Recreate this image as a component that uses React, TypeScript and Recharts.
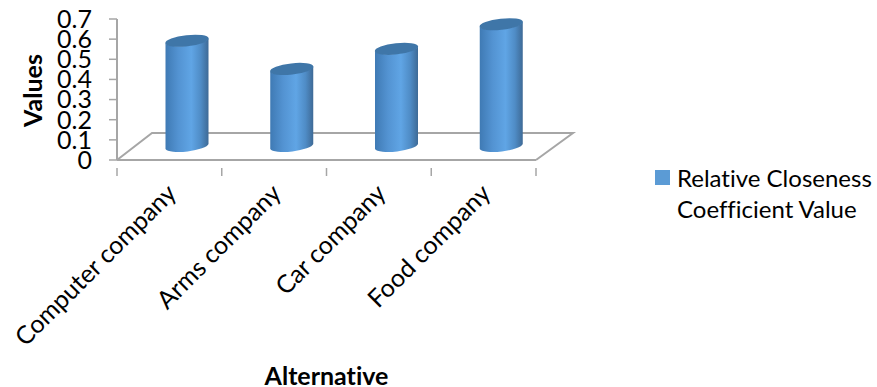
import React from 'react';
import { BarChart, Bar, XAxis, YAxis, Label, Legend, usePlotArea } from 'recharts';

const categories = ['Computer company', 'Arms company', 'Car company', 'Food company'];
const closeness = [0.525, 0.385, 0.485, 0.607];
const yTicks = [0, 0.1, 0.2, 0.3, 0.4, 0.5, 0.6, 0.7];
const seriesName = 'Relative Closeness Coefficient Value';

const data = categories.map((name, i) => ({ name, value: closeness[i] }));

const FONT = 'Lato, sans-serif';
const AXIS_GREY = '#a6a6a6';
const SLOT = 419 / categories.length;

// the chart floor, sits behind the bars
const Floor = () => {
  const plot = usePlotArea();
  if (!plot) return null;
  const { x, y, width, height } = plot;
  const base = y + height;
  return (
    <path
      d={`M${x} ${base} L${x + 35} ${base - 27} L${x + width + 37} ${base - 27} L${x + width} ${base}`}
      fill="none"
      stroke={AXIS_GREY}
      strokeWidth={2}
    />
  );
};

const Cylinder = (props: any) => {
  const { x, y, width, height } = props;
  const cx = x + width / 2 + 17.5;
  const left = cx - 21.5;
  const right = cx + 21.5;
  const top = y - 13.5;
  const bottom = y + height - 13.5;
  const arc = 'A21.8 5.6 -6.5 0';
  return (
    <g>
      <path
        d={`M${left} ${top + 2.5} L${left} ${bottom + 2.5} ${arc} 0 ${right} ${bottom - 2.5} L${right} ${top - 2.5} ${arc} 1 ${left} ${top + 2.5} Z`}
        fill="url(#cyl)"
      />
      <ellipse cx={cx} cy={top} rx={21.8} ry={5.6} transform={`rotate(-6.5 ${cx} ${top})`} fill="#3f76a8" />
    </g>
  );
};

const CategoryTick = (props: any) => {
  const { x, y, index, payload } = props;
  const tickX = x - SLOT / 2;
  const ax = x + 8.5;
  const ay = y + 27;
  return (
    <g>
      <line x1={tickX} y1={y} x2={tickX} y2={y + 8} stroke={AXIS_GREY} strokeWidth={1.5} />
      {index === categories.length - 1 && (
        <line x1={x + SLOT / 2} y1={y} x2={x + SLOT / 2} y2={y + 8} stroke={AXIS_GREY} strokeWidth={1.5} />
      )}
      <text
        x={ax}
        y={ay}
        textAnchor="end"
        fontFamily={FONT}
        fontSize={25}
        fill="#000"
        style={{ fontVariantLigatures: 'none' }}
        transform={`rotate(-45 ${ax} ${ay})`}
      >
        {payload.value}
      </text>
    </g>
  );
};

const LegendBox = () => (
  <div
    style={{
      position: 'relative',
      width: 222,
      fontFamily: FONT,
      fontSize: 24,
      lineHeight: '31px',
      color: '#000',
      fontVariantLigatures: 'none',
    }}
  >
    <span style={{ position: 'absolute', left: 0, top: 8, width: 15, height: 15, background: '#5b9bd5' }} />
    <div style={{ marginLeft: 22, width: 200 }}>{seriesName}</div>
  </div>
);

export default function App() {
  return (
    <div style={{ position: 'absolute', left: 0, top: 0, width: 877, height: 387, background: '#fff' }}>
      <BarChart
        width={877}
        height={387}
        data={data}
        margin={{ top: 19, right: 341, bottom: 0, left: 0 }}
      >
        <defs>
          <linearGradient id="cyl" x1="0" y1="0" x2="1" y2="0">
            <stop offset="0" stopColor="#3f7ab4" />
            <stop offset="0.3" stopColor="#5393d2" />
            <stop offset="0.6" stopColor="#60a5e5" />
            <stop offset="0.82" stopColor="#4f8cc6" />
            <stop offset="1" stopColor="#3e6a96" />
          </linearGradient>
        </defs>
        <Floor />
        <XAxis
          dataKey="name"
          height={227}
          interval={0}
          axisLine={{ stroke: AXIS_GREY, strokeWidth: 2 }}
          tickLine={false}
          tick={<CategoryTick />}
        >
          <Label
            value="Alternative"
            position="insideBottom"
            offset={0}
            dy={-2}
            style={{ fontFamily: FONT, fontSize: 25, fontWeight: 700, fill: '#000', fontVariantLigatures: 'none' }}
          />
        </XAxis>
        <YAxis
          width={117}
          domain={[0, 0.7]}
          ticks={yTicks}
          interval={0}
          axisLine={{ stroke: AXIS_GREY, strokeWidth: 2 }}
          tickLine={{ stroke: AXIS_GREY, strokeWidth: 1.5 }}
          tickSize={8}
          tickMargin={17}
          tick={{ fontFamily: FONT, fontSize: 25, fill: '#000' }}
        >
          <Label
            value="Values"
            angle={-90}
            position="insideLeft"
            offset={33}
            dy={1}
            style={{ fontFamily: FONT, fontSize: 25, fontWeight: 700, fill: '#000', textAnchor: 'middle' }}
          />
        </YAxis>
        <Bar dataKey="value" name={seriesName} barSize={43} fill="#5b9bd5" shape={<Cylinder />} isAnimationActive={false} />
        <Legend
          layout="horizontal"
          verticalAlign="middle"
          content={<LegendBox />}
          wrapperStyle={{ position: 'absolute', left: 655, top: 162, width: 222, height: 62 }}
        />
      </BarChart>
    </div>
  );
}
